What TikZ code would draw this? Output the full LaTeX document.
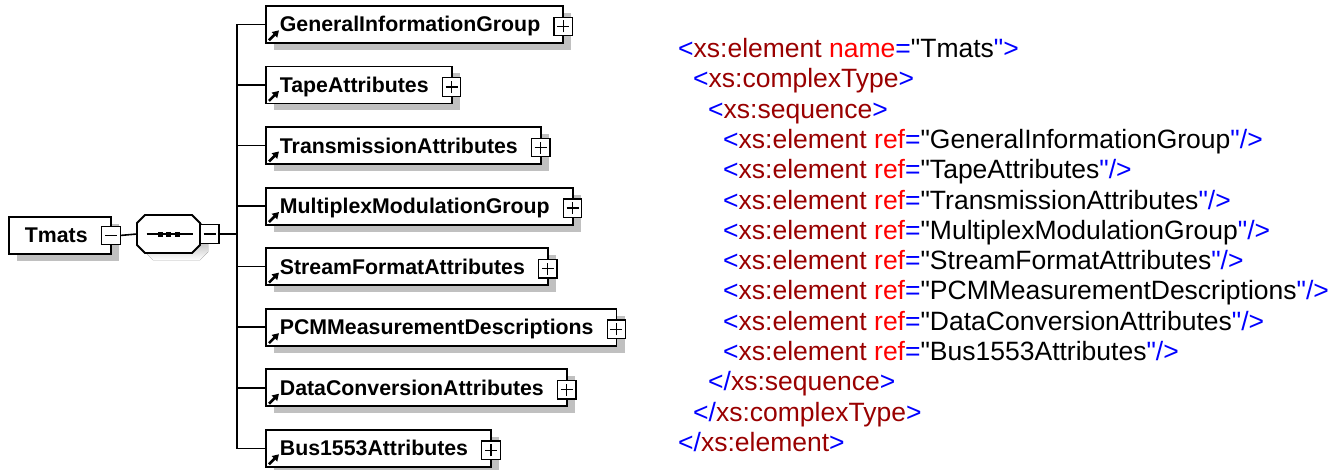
\documentclass[tikz,border=0pt]{standalone}
\usepackage{fontspec}
\setmainfont{Liberation Sans}[Ligatures=TeXOff]
\usetikzlibrary{shadows,arrows.meta,calc}

\definecolor{xblue}{RGB}{0,0,255}
\definecolor{xtag}{RGB}{153,0,0}
\definecolor{xattr}{RGB}{255,0,0}
\definecolor{shade}{RGB}{192,192,192}
\definecolor{ink}{RGB}{0,0,0}

% XML source helpers
\newcommand\xtagopen[1]{\textcolor{xblue}{<}\textcolor{xtag}{#1}}
\newcommand\xtagclose[1]{\textcolor{xblue}{</}\textcolor{xtag}{#1}\textcolor{xblue}{>}}
\newcommand\xmlref[1]{\xtagopen{xs:element} \textcolor{xattr}{ref}\textcolor{xblue}{=}"#1\textcolor{xblue}{"/>}}
% padded label of an element box
\newcommand\elemtext[1]{\hspace*{14pt}#1\hspace*{23pt}}

\tikzset{
  boxfont/.style={font=\fontsize{21.3pt}{24pt}\selectfont\bfseries},
  elembox/.style={draw=ink, line width=1.8pt, fill=white, inner xsep=0pt, inner ysep=0pt,
    minimum height=37pt, text height=15pt, text depth=0pt, anchor=north west, boxfont,
    drop shadow={shadow xshift=8pt, shadow yshift=-7pt, fill=shade, opacity=1}},
  pmbox/.style={draw=ink, fill=white, line width=1.3pt, minimum size=18.5pt, inner sep=0pt},
  plusbox/.style={pmbox, path picture={
    \draw[line width=1.3pt]
      ([xshift=-6pt]path picture bounding box.center) -- ([xshift=6pt]path picture bounding box.center)
      ([yshift=-6pt]path picture bounding box.center) -- ([yshift=6pt]path picture bounding box.center);}},
  minusbox/.style={pmbox, path picture={
    \draw[line width=1.3pt]
      ([xshift=-6pt]path picture bounding box.center) -- ([xshift=6pt]path picture bounding box.center);}},
  conn/.style={draw=ink, line width=1.6pt},
  refarrow/.style={line width=2.6pt, -{Triangle[length=6.5pt,width=7.5pt]}},
  xml/.style={anchor=base west, inner sep=0pt, font=\fontsize{26.5pt}{30pt}\selectfont}
}

\begin{document}
\begin{tikzpicture}[x=1pt, y=-1pt]
\useasboundingbox (0,0) rectangle (1344,469);

% root element
\node[elembox] (tmats) at (8,216) {\hspace*{16pt}Tmats\hspace*{23pt}};
\node[minusbox] (tmm) at ($(tmats.east)+(-0.5,0)$) {};

% sequence compositor
\node[minimum width=63pt, minimum height=38pt, inner sep=0pt] (seq) at (168.5,234) {};
\fill[shade] ($(seq.center)+(8,7)$) ++(-23.5,-19) -- ++(47,0) -- ++(8,8) -- ++(0,22)
  -- ++(-8,8) -- ++(-47,0) -- ++(-8,-8) -- ++(0,-22) -- cycle;
\draw[ink, line width=1.8pt, fill=white] ($(seq.center)$) ++(-23.5,-19) -- ++(47,0) -- ++(8,8) -- ++(0,22)
  -- ++(-8,8) -- ++(-47,0) -- ++(-8,-8) -- ++(0,-22) -- cycle;
\draw[line width=1.6pt] ($(seq.center)+(-22,0)$) -- ($(seq.center)+(24,0)$);
\foreach \dx in {-8.5,0,8.5}
  \fill ($(seq.center)+(\dx-2.5,-2.5)$) rectangle ++(5,5);
\node[minusbox] (seqm) at ($(seq.east)+(9.5,0)$) {};

\draw[conn] (tmm.east) -- (seq.west);
\coordinate (fork) at (237,234);
\draw[conn] (seqm.east) -- (fork);

% child element references
\foreach \n [count=\i from 0] in {GeneralInformationGroup,TapeAttributes,TransmissionAttributes,
    MultiplexModulationGroup,StreamFormatAttributes,PCMMeasurementDescriptions,
    DataConversionAttributes,Bus1553Attributes}{
  \node[elembox] (c\i) at (265,{5+60.57*\i}) {\elemtext{\n}};
  \node[plusbox] (p\i) at ($(c\i.east)+(-1,2)$) {};
  \draw[refarrow] ($(c\i.south west)+(4,-3.5)$) -- ++(10,-10);
  \draw[conn] (fork) |- (c\i.west);
}

% schema source
\node[xml] (l0) at (678,57.5) {\xtagopen{xs:element} \textcolor{xattr}{name}\textcolor{xblue}{=}"Tmats\textcolor{xblue}{">}};
\node[xml] (l1) at (693,87.8) {\xtagopen{xs:complexType}\textcolor{xblue}{>}};
\node[xml] (l2) at (708,118.1) {\xtagopen{xs:sequence}\textcolor{xblue}{>}};
\foreach \n [count=\i from 3] in {GeneralInformationGroup,TapeAttributes,TransmissionAttributes,
    MultiplexModulationGroup,StreamFormatAttributes,PCMMeasurementDescriptions,
    DataConversionAttributes,Bus1553Attributes}
  \node[xml] (l\i) at (723,{57.5+30.3*\i}) {\xmlref{\n}};
\node[xml] (l11) at (708,390.8) {\xtagclose{xs:sequence}};
\node[xml] (l12) at (693,421.1) {\xtagclose{xs:complexType}};
\node[xml] (l13) at (678,451.4) {\xtagclose{xs:element}};
\end{tikzpicture}
\end{document}
